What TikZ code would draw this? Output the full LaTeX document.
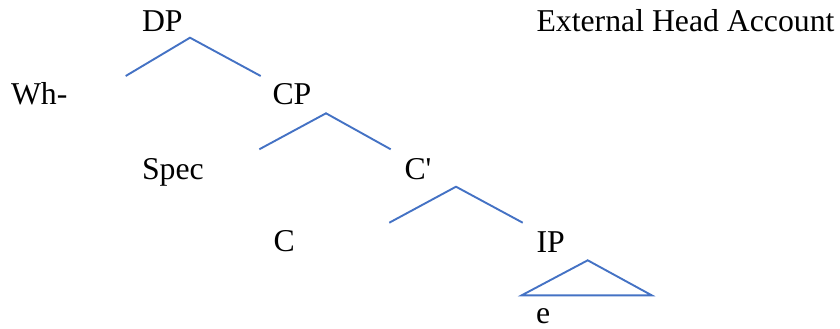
\documentclass[tikz,border=0pt]{standalone}
\usepackage{fontspec}
\setmainfont{Liberation Serif}
\definecolor{branch}{HTML}{4472C4}
\tikzset{
  lbl/.style={anchor=base west, inner sep=0pt, outer sep=0pt, font=\fontsize{31.75}{36}\selectfont},
  edge/.style={draw=branch, line width=1.9pt},
}
\begin{document}
\begin{tikzpicture}[x=1pt,y=-1pt]
\useasboundingbox (0,0) rectangle (840,329);
% labels
\node[lbl] (dp) at (142,31.7) {DP};
\node[lbl] (title) at (536.5,31.7) {External Head Account};
\node[lbl] (wh) at (11,104.3) {Wh-};
\node[lbl] (cp) at (272.5,104.3) {CP};
\node[lbl] (spec) at (142,179.3) {Spec};
\node[lbl] (cbar) at (404.5,179.3) {C\textquotesingle};
\node[lbl] (c) at (273.5,251.7) {C};
\node[lbl] (ip) at (536.5,252.3) {IP};
\node[lbl] (e) at (536,323.3) {e};
% branch points
\coordinate (dpA) at (190,37.7);
\coordinate (dpL) at (125.7,76);
\coordinate (dpR) at (260.7,76);
\coordinate (cpA) at (326,113.3);
\coordinate (cpL) at (259.3,149.3);
\coordinate (cpR) at (390.7,149.3);
\coordinate (cbA) at (456,186.7);
\coordinate (cbL) at (389.3,222.7);
\coordinate (cbR) at (522.7,222.7);
\coordinate (ipA) at (587.7,260.3);
\coordinate (ipL) at (521.7,295.3);
\coordinate (ipR) at (651.7,295.3);
% branches
\draw[edge] (dpL) -- (dpA) -- (dpR);
\draw[edge] (cpL) -- (cpA) -- (cpR);
\draw[edge] (cbL) -- (cbA) -- (cbR);
\draw[edge] (ipA) -- (ipL) -- (ipR) -- cycle;
\end{tikzpicture}
\end{document}
